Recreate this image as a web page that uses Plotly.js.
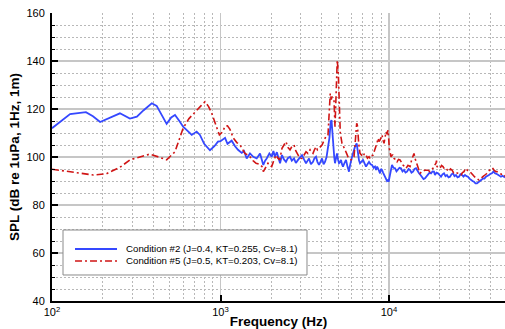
<!DOCTYPE html>
<html>
<head>
<meta charset="utf-8">
<script src="https://cdn.plot.ly/plotly-3.0.1.min.js"></script>
<style>html,body{margin:0;padding:0;background:#fff;}#chart{width:505px;height:329px;}</style>
</head>
<body>
<div id="chart"></div>
<script>
// ---- data ----
const seriesNames = ["Condition #2 (J=0.4, KT=0.255, Cv=8.1)", "Condition #5 (J=0.5, KT=0.203, Cv=8.1)"];
const seriesColors = ['#3548ff', '#d01515'];
const seriesDash = ['solid', '7px,3px,2px,3px'];

const freqCond2 = [100,115,128,159,175,193,220,253,290,319,350,391,418,450,479,510,537,570,600,640,675,722,755,800,866,920,966,1000,1064,1100,1165,1220,1270,1336,1380,1430,1496,1565,1640,1716,1760,1795,1840,1880,1950,2013,2060,2105,2160,2203,2256,2317,2380,2447,2510,2585,2650,2731,2800,2884,2960,3046,3130,3217,3290,3352,3440,3540,3610,3688,3760,3842,3920,4004,4090,4171,4260,4345,4430,4508,4560,4589,4630,4670,4730,4781,4850,4913,4980,5050,5120,5190,5260,5333,5440,5557,5670,5789,5870,5949,6030,6114,6200,6284,6431,6490,6546,6640,6728,6870,7011,7150,7304,7450,7609,7770,7930,8100,8260,8380,8500,8606,8720,8845,8970,9090,9220,9340,9470,9600,9730,9865,9950,10130,10280,10420,10640,10860,11080,11310,11540,11780,12030,12280,12530,12790,13060,13330,13600,13880,14170,14470,14770,15070,15380,15700,16030,16360,16700,17040,17400,17760,18120,18490,18750,19140,19530,19940,20350,20770,21200,21640,22090,22550,23010,23490,23970,24470,24980,25500,26020,26560,27110,27670,28240,28830,29420,30030,30650,31290,31930,32590,33270,33960,34660,35380,36110,36860,37620,38400,39190,40000,40830,41680,42540,43420,44310,45230,46170,47120,48100,48800];
const splCond2 = [112.0,115.5,117.9,118.7,117.0,114.6,116.5,118.2,116.0,116.8,119.5,122.4,121.3,117.0,113.8,116.5,117.5,115.0,112.6,110.8,109.2,110.6,109.2,105.5,102.8,104.5,106.4,106.6,108.0,105.5,106.8,104.5,103.0,101.7,102.5,99.4,101.5,100.1,99.4,101.5,99.0,96.7,98.5,99.4,101.5,100.1,102.5,100.1,102.0,99.4,97.4,100.8,99.0,98.0,99.5,100.1,98.5,99.4,97.5,98.8,100.0,100.8,99.0,97.4,98.5,99.4,97.0,98.0,99.5,100.1,98.0,96.7,98.0,99.4,97.0,98.0,100.0,104.3,108.0,114.7,115.4,112.6,108.0,104.3,100.0,97.4,99.5,101.5,99.0,97.4,97.8,98.8,97.0,96.0,97.5,98.8,96.0,93.9,96.5,98.8,100.0,101.5,103.0,104.3,105.7,103.6,100.1,98.5,97.4,98.0,98.8,97.5,96.0,97.0,98.0,97.0,96.7,95.5,96.0,94.6,96.0,95.3,94.0,93.2,95.0,94.6,93.5,92.5,91.8,91.1,90.0,90.4,89.7,92.5,94.5,96.7,95.5,95.3,94.0,94.6,95.5,95.3,94.0,94.6,93.5,93.9,95.0,94.6,93.5,93.9,95.0,95.3,94.0,93.2,92.5,91.8,90.8,91.1,92.0,92.5,93.5,93.2,94.0,93.9,92.5,93.5,93.2,92.5,91.8,92.8,93.2,92.0,92.5,91.5,91.8,92.8,93.2,92.0,92.5,91.5,91.8,92.8,92.5,91.8,92.5,92.0,91.8,91.0,90.4,90.0,89.7,89.0,89.0,89.5,89.7,90.5,91.1,91.0,91.8,92.0,92.5,93.0,93.2,94.0,93.2,93.0,92.5,92.0,91.8,92.2,91.8,91.5];

const freqCond5 = [100,130,176,210,253,290,330,380,430,479,537,570,600,650,722,770,809,850,887,940,985,1030,1064,1100,1138,1190,1250,1306,1350,1396,1440,1496,1560,1626,1700,1764,1795,1850,1914,1960,2013,2070,2135,2190,2246,2317,2380,2447,2510,2585,2660,2731,2800,2884,2960,3046,3130,3217,3300,3400,3470,3540,3610,3688,3760,3842,3920,4004,4090,4171,4250,4345,4420,4480,4540,4589,4650,4716,4781,4847,4930,5002,5070,5140,5261,5370,5482,5600,5710,5830,5949,6070,6198,6300,6371,6431,6490,6546,6610,6728,6870,7011,7150,7304,7450,7609,7710,7870,8040,8200,8380,8500,8606,8720,8845,8970,9090,9220,9340,9470,9600,9730,9865,9950,10040,10280,10500,10710,10930,11160,11390,11620,11860,12110,12360,12620,12960,13330,13600,13880,14070,14270,14470,14660,14970,15280,15600,15920,16250,16580,17040,17510,17870,18240,18620,19010,19140,19270,19670,20070,20490,20910,21340,21790,22240,22700,23170,23650,24140,24640,25150,25670,26200,26740,27290,27860,28440,29020,29620,30240,30860,31500,32150,32820,33500,34190,34900,35620,36360,37110,37880,38660,39460,40280,41110,41960,42830,43710,44610,45540,46480,47440,48100,48800];
const splCond5 = [94.9,93.8,92.5,93.0,95.7,98.8,100.0,101.2,100.0,98.8,102.2,107.0,112.0,116.0,119.6,121.5,123.0,121.0,118.2,113.0,109.2,110.5,112.8,113.0,111.5,108.0,106.0,105.0,103.0,101.5,101.0,100.1,98.5,97.4,97.0,96.0,93.9,95.5,97.4,96.5,96.0,98.5,100.8,99.5,98.8,103.6,105.0,106.4,104.0,103.0,104.5,105.0,102.5,100.8,99.5,99.4,101.0,102.2,101.5,103.0,102.0,101.5,103.0,104.3,103.0,103.6,104.5,105.0,106.5,107.8,109.0,109.2,118.0,126.5,124.0,125.1,124.5,123.8,112.6,130.7,140.4,134.9,123.8,109.9,105.7,104.0,103.0,101.5,100.1,99.5,98.8,99.5,100.1,106.0,112.6,114.0,113.3,109.0,105.7,101.5,100.5,100.1,101.5,100.8,99.5,100.1,99.4,100.5,100.8,102.5,104.3,106.0,107.8,106.5,107.0,108.5,109.2,107.0,105.7,108.0,110.5,109.5,111.2,108.0,103.6,100.1,101.0,99.4,99.0,98.0,99.0,98.8,97.5,96.7,96.0,95.3,96.5,96.0,98.5,100.8,101.5,99.4,98.0,96.7,95.0,93.2,93.8,93.9,94.5,94.6,94.5,93.9,94.5,95.3,96.5,97.4,98.5,96.0,95.5,95.3,96.5,96.0,95.0,95.3,94.5,93.9,95.0,94.6,93.5,93.9,93.5,93.2,92.8,92.5,93.5,93.9,95.3,94.6,94.0,93.9,93.0,92.5,91.8,91.1,90.8,90.4,91.0,91.8,92.0,92.5,93.0,93.9,94.5,95.3,95.5,94.6,94.0,93.9,93.5,93.2,92.8,93.0,92.5,92.0];

// axis ticks
const xTickVals = [100, 1000, 10000];
const xTickText = ["10<sup>2</sup>", "10<sup>3</sup>", "10<sup>4</sup>"];
const xMinorVals = [200,300,400,500,600,700,800,900,2000,3000,4000,5000,6000,7000,8000,9000,20000,30000,40000];

const traces = [
  {x: freqCond2, y: splCond2, name: seriesNames[0], type: 'scatter', mode: 'lines',
   line: {color: seriesColors[0], width: 1.8, dash: seriesDash[0]}, showlegend: false},
  {x: freqCond5, y: splCond5, name: seriesNames[1], type: 'scatter', mode: 'lines',
   line: {color: seriesColors[1], width: 1.6, dash: seriesDash[1]}, showlegend: false}
];

// legend box (paper coordinates of the plot area)
const legBox = {x0: 0.0243, x1: 0.5629, y0: 0.0903, y1: 0.2465};
const legRows = [0.1806, 0.1389];
const legLineX = [0.0508, 0.1435];
const legTextX = 0.1589;

const shapes = [
  {type: 'rect', xref: 'paper', yref: 'paper', x0: legBox.x0, x1: legBox.x1, y0: legBox.y0, y1: legBox.y1,
   line: {color: '#8a8a8a', width: 1}, fillcolor: '#ffffff', layer: 'above'}
];
const annotations = [];
seriesNames.forEach((nm, i) => {
  shapes.push({type: 'line', xref: 'paper', yref: 'paper', x0: legLineX[0], x1: legLineX[1],
               y0: legRows[i], y1: legRows[i], layer: 'above',
               line: {color: seriesColors[i], width: i === 0 ? 1.8 : 1.6, dash: seriesDash[i]}});
  annotations.push({xref: 'paper', yref: 'paper', x: legTextX, y: legRows[i], xanchor: 'left', yanchor: 'middle',
                    text: nm, showarrow: false, font: {size: 9.7, color: '#000'}});
});

const layout = {
  width: 505, height: 329,
  margin: {l: 52, r: 0, t: 13, b: 28, pad: 0},
  paper_bgcolor: '#ffffff', plot_bgcolor: '#ffffff',
  font: {family: 'Liberation Sans, Arial, sans-serif', size: 11, color: '#000'},
  showlegend: false,
  shapes: shapes,
  annotations: annotations,
  xaxis: {
    type: 'log', range: [2, 4.6884], autorange: false,
    tickvals: xTickVals, ticktext: xTickText,
    ticks: 'inside', ticklen: 6, tickwidth: 2, tickcolor: '#000',
    showline: true, linecolor: '#000', linewidth: 2,
    showgrid: true, gridcolor: '#c6c6c6', gridwidth: 1.5, zeroline: false,
    minor: {tickvals: xMinorVals, showgrid: true, gridcolor: '#b8b8b8', griddash: '2px,2px', gridwidth: 1, ticks: ''},
    tickfont: {size: 11},
    title: {text: '<b>Frequency (Hz)</b>', font: {size: 13.5}, standoff: 1},
    automargin: false
  },
  yaxis: {
    range: [40, 160], autorange: false, tick0: 40, dtick: 20,
    ticks: 'inside', ticklen: 6, tickwidth: 2, tickcolor: '#000',
    showline: true, linecolor: '#000', linewidth: 2,
    showgrid: true, gridcolor: '#c6c6c6', gridwidth: 1.5, zeroline: false,
    minor: {dtick: 5, tick0: 40, showgrid: true, gridcolor: '#b8b8b8', griddash: '2px,2px', gridwidth: 1,
            ticks: 'inside', ticklen: 3, tickwidth: 1, tickcolor: '#000'},
    tickfont: {size: 11}, ticklabelstandoff: 3,
    title: {text: '<b>SPL (dB re 1uPa, 1Hz, 1m)</b>', font: {size: 13.5}, standoff: 4},
    automargin: false
  }
};

Plotly.newPlot('chart', traces, layout, {displayModeBar: false, staticPlot: true});
</script>
</body>
</html>
